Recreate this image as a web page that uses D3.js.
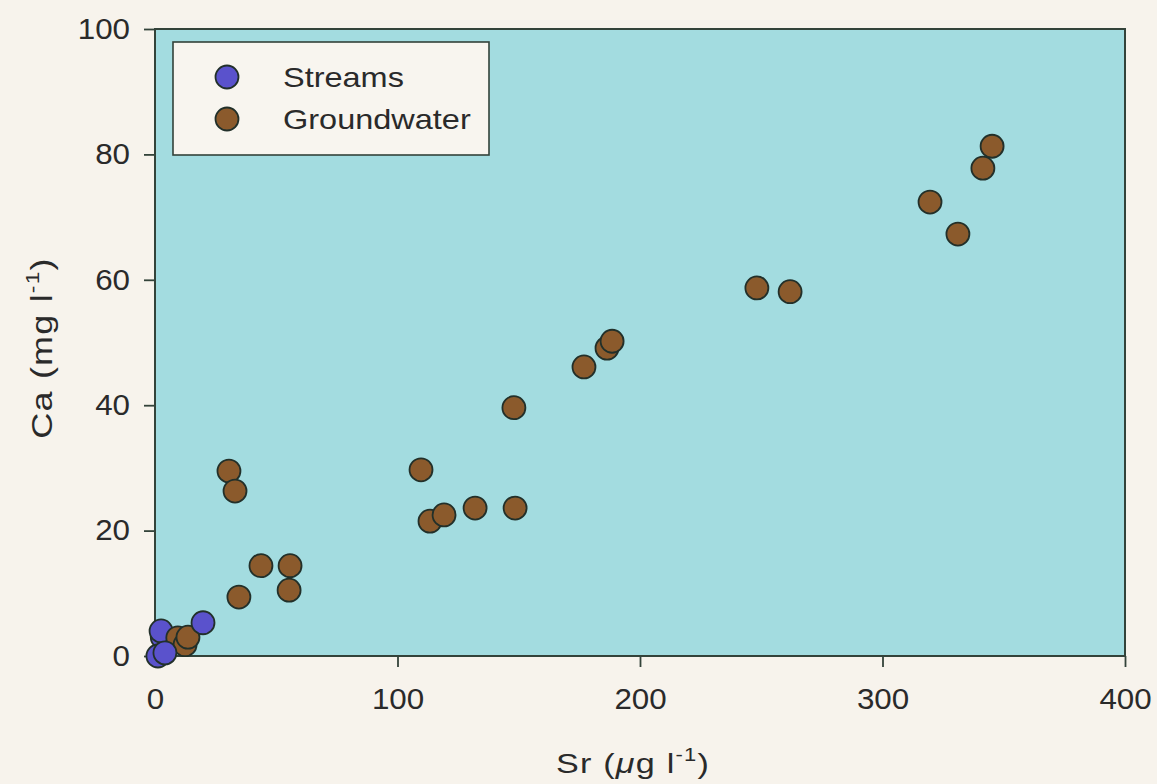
<!DOCTYPE html>
<html>
<head>
<meta charset="utf-8">
<script src="https://cdn.jsdelivr.net/npm/d3@7"></script>
<style>
  html, body { margin: 0; padding: 0; background: #f7f3ec; }
  svg { display: block; }
  text { font-family: "Liberation Sans", Arial, Helvetica, sans-serif; fill: #2a2a2a; }
</style>
</head>
<body>
<svg id="chart" width="1157" height="784"></svg>
<script>
// Sr (µg/l) vs Ca (mg/l) for streams and groundwater samples.
// Streams are split into the samples drawn beneath the groundwater layer and those drawn above it.
const streamsBackSr = [3.0, 2.5, 1.2];
const streamsBackCa = [3.0, 4.0, 0.0];
const streamsFrontSr = [4.1, 19.8];
const streamsFrontCa = [0.5, 5.3];

const groundSr = [9.4, 12.4, 13.6, 30.5, 33.0, 34.6, 43.7, 55.7, 55.3, 109.7, 113.4, 119.2, 132.0,
                  148.5, 148.0, 176.9, 186.4, 188.5, 248.2, 261.9, 319.6, 331.1, 341.4, 345.2];
const groundCa = [2.9, 1.8, 3.0, 29.5, 26.3, 9.4, 14.4, 14.4, 10.5, 29.7, 21.5, 22.5, 23.6,
                  23.6, 39.6, 46.1, 49.1, 50.2, 58.7, 58.1, 72.4, 67.3, 77.8, 81.3];

const xTicks = [0, 100, 200, 300, 400];
const yTicks = [0, 20, 40, 60, 80, 100];
const seriesNames = ["Streams", "Groundwater"];
const seriesColors = ["#5a52cc", "#8b5a2c"];

const svg = d3.select("#chart");
const plot = { left: 155, right: 1125, top: 29, bottom: 656 };

const x = d3.scaleLinear().domain([0, 400]).range([plot.left, plot.right]);
const y = d3.scaleLinear().domain([0, 100]).range([plot.bottom, plot.top]);

// the typeface is set slightly wide
const stretch = 1.12;

// plot background
svg.append("rect")
  .attr("x", plot.left).attr("y", plot.top)
  .attr("width", plot.right - plot.left).attr("height", plot.bottom - plot.top)
  .attr("fill", "#a3dce0");

// axes
const axisColor = "#33433a";
const xAxis = svg.append("g")
  .attr("transform", `translate(0,${plot.bottom})`)
  .call(d3.axisBottom(x).tickValues(xTicks).tickSize(11).tickPadding(21).tickFormat(d3.format("d")));
const yAxis = svg.append("g")
  .attr("transform", `translate(${plot.left},0)`)
  .call(d3.axisLeft(y).tickValues(yTicks).tickSize(11).tickPadding(14).tickFormat(d3.format("d")));

[xAxis, yAxis].forEach(g => {
  g.select(".domain").remove();
  g.selectAll(".tick line").attr("stroke", axisColor).attr("stroke-width", 1.8);
  g.selectAll(".tick text")
    .style("font-family", "'Liberation Sans', Arial, sans-serif")
    .style("font-size", "29px")
    .attr("fill", "#2a2a2a");
});
// widen tick labels around their anchor points
xAxis.selectAll(".tick text")
  .attr("dy", "0.71em")
  .attr("transform", `scale(1.08,1)`);
yAxis.selectAll(".tick text")
  .attr("x", null)
  .attr("transform", `translate(-25,0) scale(1.08,1)`);

// frame
svg.append("rect")
  .attr("x", plot.left).attr("y", plot.top)
  .attr("width", plot.right - plot.left).attr("height", plot.bottom - plot.top)
  .attr("fill", "none").attr("stroke", axisColor).attr("stroke-width", 2);

// points
const r = 11.5;
const toPoints = (xs, ys) => xs.map((v, i) => ({ sr: v, ca: ys[i] }));
const layers = [
  { data: toPoints(streamsBackSr, streamsBackCa), color: seriesColors[0] },
  { data: toPoints(groundSr, groundCa), color: seriesColors[1] },
  { data: toPoints(streamsFrontSr, streamsFrontCa), color: seriesColors[0] }
];
layers.forEach(layer => {
  svg.append("g").selectAll("circle").data(layer.data).join("circle")
    .attr("cx", d => x(d.sr)).attr("cy", d => y(d.ca)).attr("r", r)
    .attr("fill", layer.color).attr("stroke", "#22302a").attr("stroke-width", 1.8);
});

// legend
const legend = svg.append("g");
legend.append("rect")
  .attr("x", 173).attr("y", 42).attr("width", 316).attr("height", 113)
  .attr("fill", "#f8f5ef").attr("stroke", axisColor).attr("stroke-width", 1.6);
seriesNames.forEach((name, i) => {
  const cy = 77 + i * 42;
  legend.append("circle")
    .attr("cx", 227).attr("cy", cy).attr("r", r)
    .attr("fill", seriesColors[i]).attr("stroke", "#22302a").attr("stroke-width", 1.8);
  legend.append("text")
    .attr("transform", `translate(283,${cy}) scale(${stretch + 0.04},1)`)
    .attr("dy", "0.36em")
    .style("font-size", "28px")
    .text(name);
});

// axis titles
const xTitle = svg.append("text")
  .attr("transform", `translate(633,773) scale(${stretch + 0.1},1)`)
  .attr("text-anchor", "middle")
  .style("font-size", "28px")
  .style("letter-spacing", "1px");
xTitle.append("tspan").text("Sr (");
xTitle.append("tspan").style("font-style", "italic").text("\u03bc");
xTitle.append("tspan").text("g l");
xTitle.append("tspan").attr("dy", -12).style("font-size", "18px").text("-1");
xTitle.append("tspan").attr("dy", 12).text(")");

const yTitle = svg.append("text")
  .attr("transform", `translate(52,348) rotate(-90) scale(${stretch + 0.08},1)`)
  .attr("text-anchor", "middle")
  .style("font-size", "30px")
  .style("letter-spacing", "1px");
yTitle.append("tspan").text("Ca (mg l");
yTitle.append("tspan").attr("dy", -13).style("font-size", "19px").text("-1");
yTitle.append("tspan").attr("dy", 13).text(")");
</script>
</body>
</html>
